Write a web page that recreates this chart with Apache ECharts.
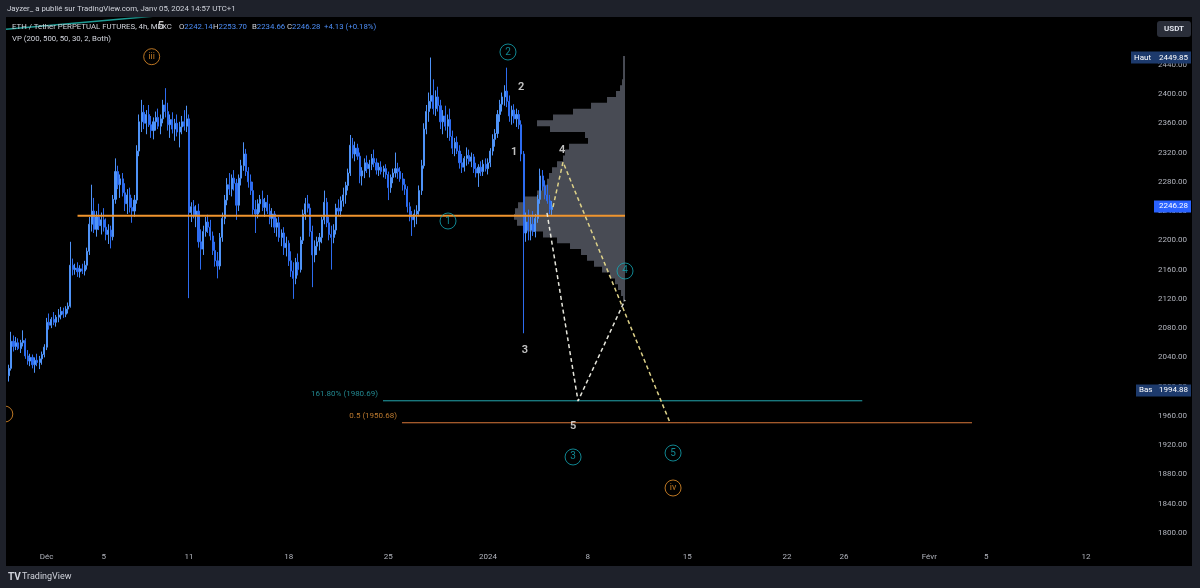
<!DOCTYPE html>
<html><head><meta charset="utf-8">
<script src="https://cdn.jsdelivr.net/npm/echarts@6/dist/echarts.min.js"></script>
<style>html,body{margin:0;padding:0;background:#000;}#c{width:1200px;height:588px;}</style>
</head><body><div id="c"></div>
<script>
// ---- time axis: hours relative to 1 Dec 2023 00:00 (UTC+1), 4h candles from 28 Nov 08:00
const firstCandleHour = -64;
const candleHours = 4;

const opens = [
2015,2025,2062,2055,2060,2052,2060,2063,2042,2035,
2040,2030,2036,2033,2038,2044,2054,2088,2084,2092,
2088,2095,2098,2103,2099,2106,2110,2166,2160,2162,
2157,2161,2158,2166,2185,2222,2240,2215,2232,2220,
2228,2218,2208,2214,2205,2256,2294,2276,2284,2265,
2250,2262,2245,2240,2255,2322,2362,2375,2360,2372,
2358,2350,2362,2368,2356,2366,2385,2376,2358,2365,
2352,2360,2348,2355,2362,2356,2366,2238,2246,2235,
2240,2198,2188,2212,2225,2218,2206,2186,2172,2165,
2204,2230,2255,2276,2270,2285,2278,2248,2285,2302,
2318,2294,2280,2268,2242,2236,2250,2256,2245,2252,
2240,2230,2236,2218,2224,2204,2210,2190,2196,2172,
2158,2148,2170,2160,2200,2236,2250,2244,2212,2180,
2192,2198,2204,2228,2252,2224,2208,2204,2214,2244,
2240,2254,2262,2275,2292,2330,2318,2326,2315,2288,
2295,2306,2298,2304,2312,2306,2296,2300,2294,2298,
2290,2272,2286,2292,2298,2294,2284,2276,2270,2246,
2232,2228,2236,2240,2268,2302,2352,2376,2390,2398,
2380,2396,2384,2362,2370,2356,2365,2342,2326,2334,
2322,2306,2300,2312,2316,2308,2314,2298,2292,2300,
2294,2304,2298,2306,2322,2338,2346,2372,2386,2396,
2404,2390,2370,2378,2366,2372,2358,2318,2210,2225,
2214,2222,2212,2230,2256,2288,2274,2262,2254,2242.14];
const highs = [
2030,2075,2070,2068,2066,2064,2077,2066,2050,2045,
2044,2040,2045,2042,2048,2058,2094,2100,2095,2102,
2098,2106,2109,2108,2110,2115,2198,2175,2168,2170,
2166,2168,2172,2190,2232,2276,2258,2240,2250,2238,
2244,2230,2222,2220,2262,2312,2302,2290,2292,2278,
2270,2272,2258,2262,2330,2372,2392,2385,2378,2385,
2370,2368,2376,2380,2372,2392,2408,2388,2372,2375,
2366,2372,2362,2370,2378,2384,2372,2252,2255,2248,
2250,2215,2220,2232,2235,2228,2212,2198,2184,2210,
2238,2262,2285,2292,2290,2296,2284,2290,2310,2334,
2325,2300,2290,2280,2255,2256,2262,2268,2258,2262,
2250,2244,2240,2230,2232,2215,2218,2205,2200,2185,
2170,2176,2182,2205,2242,2258,2262,2250,2220,2200,
2205,2210,2232,2268,2258,2232,2220,2222,2250,2256,
2260,2272,2280,2298,2344,2340,2335,2332,2320,2300,
2312,2316,2310,2318,2324,2312,2306,2308,2302,2304,
2294,2290,2298,2320,2306,2300,2292,2284,2274,2252,
2240,2242,2248,2275,2310,2360,2385,2402,2449.85,2420,
2405,2410,2392,2378,2384,2372,2380,2350,2340,2342,
2330,2318,2315,2327,2324,2320,2318,2306,2304,2308,
2310,2312,2312,2326,2345,2352,2378,2392,2402,2412,
2436,2398,2384,2386,2380,2378,2364,2322,2238,2242,
2232,2240,2236,2262,2298,2296,2282,2276,2262,2253.70];
const lows = [
2007,2022,2048,2050,2050,2046,2055,2038,2030,2028,
2025,2019,2028,2024,2030,2040,2050,2078,2080,2084,
2082,2088,2092,2094,2095,2100,2108,2152,2153,2150,
2149,2154,2152,2160,2180,2212,2210,2205,2214,2208,
2212,2200,2195,2189,2200,2250,2270,2258,2260,2240,
2236,2238,2224,2232,2250,2315,2348,2352,2345,2355,
2340,2338,2350,2352,2345,2360,2368,2350,2340,2346,
2336,2342,2327,2345,2350,2348,2121,2225,2230,2218,
2190,2160,2180,2205,2210,2200,2180,2164,2148,2160,
2198,2222,2248,2262,2260,2268,2228,2240,2275,2295,
2288,2272,2262,2235,2210,2230,2238,2240,2232,2236,
2222,2218,2210,2205,2198,2192,2180,2178,2165,2150,
2120,2140,2152,2156,2195,2228,2238,2205,2136,2170,
2180,2186,2196,2222,2218,2200,2160,2196,2208,2234,
2232,2246,2250,2268,2288,2312,2308,2310,2278,2275,
2285,2292,2286,2296,2300,2290,2288,2290,2286,2284,
2255,2265,2278,2286,2284,2280,2268,2262,2238,2226,
2206,2218,2222,2235,2262,2298,2345,2362,2380,2372,
2370,2376,2352,2345,2350,2340,2336,2318,2315,2318,
2298,2292,2294,2302,2304,2300,2292,2286,2273,2288,
2288,2294,2290,2300,2316,2328,2340,2362,2376,2384,
2382,2362,2358,2360,2355,2352,2308,2073,2198,2200,
2200,2206,2204,2224,2250,2268,2256,2250,2236,2234.66];
const closes = [
2025,2062,2055,2060,2052,2060,2063,2042,2035,2040,
2030,2036,2033,2038,2044,2054,2088,2084,2092,2088,
2095,2098,2103,2099,2106,2110,2166,2160,2162,2157,
2161,2158,2166,2185,2222,2240,2215,2232,2220,2228,
2218,2208,2214,2205,2256,2294,2276,2284,2265,2250,
2262,2245,2240,2255,2322,2362,2375,2360,2372,2358,
2350,2362,2368,2356,2366,2385,2376,2358,2365,2352,
2360,2348,2355,2362,2356,2366,2238,2246,2235,2240,
2198,2188,2212,2225,2218,2206,2186,2172,2165,2204,
2230,2255,2276,2270,2285,2278,2248,2285,2302,2318,
2294,2280,2268,2242,2236,2250,2256,2245,2252,2240,
2230,2236,2218,2224,2204,2210,2190,2196,2172,2158,
2148,2170,2160,2200,2236,2250,2244,2212,2180,2192,
2198,2204,2228,2252,2224,2208,2204,2214,2244,2240,
2254,2262,2275,2292,2330,2318,2326,2315,2288,2295,
2306,2298,2304,2312,2306,2296,2300,2294,2298,2290,
2272,2286,2292,2298,2294,2284,2276,2270,2246,2232,
2228,2236,2240,2268,2302,2352,2376,2390,2398,2380,
2396,2384,2362,2370,2356,2365,2342,2326,2334,2322,
2306,2300,2312,2316,2308,2314,2298,2292,2300,2294,
2304,2298,2306,2322,2338,2346,2372,2386,2396,2404,
2390,2370,2378,2366,2372,2358,2318,2210,2225,2214,
2222,2212,2230,2256,2288,2274,2262,2254,2242.14,2246.28];

// volume profile (price bin centre, relative volume)
const vpPrices = [2120,2128,2136,2144,2152,2160,2168,2176,2184,2192,2200,2208,2216,2224,2232,2240,2248,2256,2264,2272,2280,2288,2296,2304,2312,2320,2328,2336,2344,2352,2360,2368,2376,2384,2392,2400,2408,2416,2424,2432,2440,2448];
const vpVolumes = [2,4,7,10,15,23,31,38,44,55,68,82,100,108,111,110,107,100,88,83,78,76,73,68,62,60,56,37,40,75,88,72,52,34,18,9,5,3,2,2,2,2];
const vpBinSize = 8;
const vpAnchorHour = 975;

// axis ticks
const xTickHours = [0,96,240,408,576,744,912,1080,1248,1344,1488,1584,1752];
const xTickLabels = ['Déc','5','11','18','25','2024','8','15','22','26','Févr','5','12'];
const yTickValues = [1800,1840,1880,1920,1960,2000,2040,2080,2120,2160,2200,2240,2280,2320,2360,2400,2440];

// drawings (hour, price)
const supportLine = [[52, 2233.7],[975, 2233.7]];
const fib1618 = [[567, 1980.69],[1375, 1980.69]];
const fib05 = [[599, 1950.68],[1560, 1950.68]];
const pathYellow = [[853.6, 2245.6],[870.5, 2307.0],[1050.9, 1950.7]];
const pathWhite = [[843.5, 2237.4],[895.8, 1980.4],[975.0, 2118.5]];
const trendTeal = [[-68.6, 2488.4],[200, 2507.8]];
const fibLabels = [[567, 1980.69, '161.80% (1980.69)'],[599, 1950.68, '0.5 (1950.68)']];
const tealCircled = [[777.7, 2457.4, '2'],[676.6, 2226.4, '1'],[975.0, 2158.1, '4'],[887.4, 1903.9, '3'],[1056.0, 1909.3, '5']];
const orangeCircled = [[177.0, 2451.0, 'iii'],[1056.0, 1861.5, 'iv'],[-70.6, 1962.6, '']];
const whiteLabels = [[192.7, 2492.9, '5'],[799.7, 2409.6, '2'],[787.9, 2320.7, '1'],[868.8, 2323.5, '4'],[806.4, 2050.1, '3'],[887.4, 1946.2, '5']];

const lastInfo = {o:'2242.14', h:'2253.70', l:'2234.66', c:'2246.28', chg:'+4.13 (+0.18%)'};
const highMark = 2449.85, lowMark = 1994.88, lastPrice = 2246.28;

const FONT = 'Roboto, "Noto Sans", sans-serif';
const candleData = opens.map((o, i) => [firstCandleHour + candleHours * i, o, closes[i], lows[i], highs[i]]);

const chart = echarts.init(document.getElementById('c'), null, {width:1200, height:588});

function lineSeries(data, color, width, type, z) {
  return {type:'line', data, showSymbol:false, symbol:'none', clip:true, silent:true, z:z||5,
    lineStyle:{color, width, type:type||'solid'}, animation:false};
}

const option = {
  backgroundColor:'#000',
  animation:false,
  grid:{left:6, right:72, top:18, bottom:45},
  xAxis:{type:'value', min:-68.6, max:1823,
    axisLine:{show:false}, axisTick:{show:false}, splitLine:{show:false},
    axisLabel:{customValues:xTickHours, formatter:v => xTickLabels[xTickHours.indexOf(v)],
      color:'#b2b5be', fontSize:8, margin:10, fontFamily:FONT}},
  yAxis:{type:'value', position:'right', min:1786.33, max:2503.87,
    axisLine:{show:false}, axisTick:{show:false}, splitLine:{show:false},
    axisLabel:{customValues:yTickValues, formatter:v => v.toFixed(2), color:'#b2b5be',
      fontSize:8, align:'right', margin:59, fontFamily:FONT}},
  series:[
    {type:'custom', z:1, silent:true, clip:false, data:[[vpAnchorHour, vpPrices[0]]],
     renderItem:(params, api) => {
       // staircase outline of the volume profile, built through the axis scale
       const pts = [];
       const first = api.coord([vpAnchorHour, vpPrices[0] - vpBinSize/2]);
       pts.push([first[0], first[1]]);
       vpPrices.forEach((p, i) => {
         const b = api.coord([vpAnchorHour, p - vpBinSize/2]);
         const t = api.coord([vpAnchorHour, p + vpBinSize/2]);
         pts.push([b[0] - vpVolumes[i], b[1]]);
         pts.push([t[0] - vpVolumes[i], t[1]]);
       });
       const last = api.coord([vpAnchorHour, vpPrices[vpPrices.length-1] + vpBinSize/2]);
       pts.push([last[0], last[1]]);
       return {type:'polygon', shape:{points:pts}, style:{fill:'#484b54'}};
     }},
    {type:'candlestick', z:3, data:candleData, encode:{x:0, y:[1,2,3,4]}, barWidth:1.6,
     itemStyle:{color:'#4f93f7', color0:'#2d6cf0', borderColor:'#4f93f7', borderColor0:'#2d6cf0', borderWidth:1}},
    lineSeries(supportLine, '#f0952e', 2, 'solid', 6),
    lineSeries(fib1618, '#23a6ae', 1, 'solid', 6),
    lineSeries(fib05, '#d9773a', 1, 'solid', 6),
    lineSeries(pathYellow, '#ddd188', 1.5, [4,3], 7),
    lineSeries(pathWhite, '#e6e6dc', 1.5, [4,3], 7),
    lineSeries(trendTeal, '#1e9b94', 1.5, 'solid', 7),
    {type:'scatter', z:8, clip:false, silent:true, symbolSize:0,
     data:fibLabels.map(d => ({value:[d[0], d[1]], label:{formatter:d[2], color: d[2].startsWith('0.5') ? '#e8963a' : '#2aa9b3'}})),
     label:{show:true, position:'left', distance:5, offset:[0,-7], fontSize:8, fontFamily:FONT}},
    {type:'scatter', z:9, clip:false, silent:true, symbol:'circle', symbolSize:16,
     itemStyle:{color:'rgba(0,0,0,0)', borderColor:'#14a6b4', borderWidth:1},
     data:tealCircled.map(d => ({value:[d[0], d[1]], label:{formatter:d[2]}})),
     label:{show:true, position:'inside', color:'#14a6b4', fontSize:10, fontFamily:FONT}},
    {type:'scatter', z:9, clip:false, silent:true, symbol:'circle', symbolSize:16,
     itemStyle:{color:'rgba(0,0,0,0)', borderColor:'#e8922c', borderWidth:1},
     data:orangeCircled.map(d => ({value:[d[0], d[1]], label:{formatter:d[2] || ' '}})),
     label:{show:true, position:'inside', color:'#e8922c', fontSize:9, fontFamily:FONT}},
    {type:'scatter', z:10, clip:false, silent:true, symbolSize:1,
     itemStyle:{color:'rgba(0,0,0,0)'},
     data:whiteLabels.map(d => ({value:[d[0], d[1]], label:{formatter:d[2]}})),
     label:{show:true, position:'inside', color:'#f2f2f2', fontSize:11, fontWeight:600, fontFamily:FONT}}
  ]
};
chart.setOption(option);

// overlays (frame, legend, price tags) placed through the chart's own scale
const yOf = p => chart.convertToPixel({gridIndex:0}, [0, p])[1];
const frame = '#1e212a';
const txt = '#d1d4dc';
const blue = '#4d8ef7';
const LF = '7.8px ' + FONT;
function tag(x, w, price, bg, label, value) {
  const y = yOf(price);
  const els = [{type:'rect', z:120, shape:{x, y:y-6, width:w, height:12}, style:{fill:bg}}];
  if (label) els.push({type:'text', z:121, x:x+3, y:y, style:{text:label, fill:'#fff', font:'8px ' + FONT, textVerticalAlign:'middle'}});
  els.push({type:'text', z:121, x:1188, y:y, style:{text:value, fill:'#fff', font:'8px ' + FONT, textAlign:'right', textVerticalAlign:'middle'}});
  return els;
}
const rich = (l, v) => ({type:'text', z:110, style:{rich:{l:{fill:txt, font:LF}, v:{fill:blue, font:LF}}, text:'{l|' + l + '}{v|' + v + '}', textVerticalAlign:'middle'}});
const graphics = [
  {type:'rect', z:100, shape:{x:0, y:0, width:1200, height:17}, style:{fill:frame}},
  {type:'rect', z:100, shape:{x:0, y:566, width:1200, height:22}, style:{fill:frame}},
  {type:'rect', z:100, shape:{x:0, y:0, width:6, height:588}, style:{fill:frame}},
  {type:'rect', z:100, shape:{x:1192, y:0, width:8, height:588}, style:{fill:frame}},
  {type:'text', z:110, x:7, y:9, style:{text:'Jayzer_ a publié sur TradingView.com, Janv 05, 2024 14:57 UTC+1', fill:txt, font:LF, textVerticalAlign:'middle'}},
  {type:'text', z:110, x:12, y:27, style:{text:'ETH / Tether PERPETUAL FUTURES, 4h, MEXC', fill:txt, font:LF, textVerticalAlign:'middle'}},
  Object.assign(rich('O', lastInfo.o), {x:179, y:27}),
  Object.assign(rich('H', lastInfo.h), {x:213, y:27}),
  Object.assign(rich('B', lastInfo.l), {x:252, y:27}),
  Object.assign(rich('C', lastInfo.c), {x:287, y:27}),
  {type:'text', z:110, x:324, y:27, style:{text:lastInfo.chg, fill:blue, font:LF, textVerticalAlign:'middle'}},
  {type:'text', z:110, x:12, y:39, style:{text:'VP (200, 500, 50, 30, 2, Both)', fill:txt, font:LF, textVerticalAlign:'middle'}},
  {type:'rect', z:110, shape:{x:1157, y:21, width:34, height:16, r:3}, style:{fill:'#2a2e39'}},
  {type:'text', z:111, x:1174, y:29, style:{text:'USDT', fill:'#e0e3eb', font:'bold 8px ' + FONT, textAlign:'center', textVerticalAlign:'middle'}},
  {type:'text', z:110, x:8, y:577, style:{text:'TV', fill:txt, font:'bold 10px ' + FONT, textVerticalAlign:'middle'}},
  {type:'text', z:110, x:22, y:577, style:{text:'TradingView', fill:txt, font:'9px ' + FONT, textVerticalAlign:'middle'}}
].concat(
  tag(1131, 60, highMark, '#1d3a6c', 'Haut', highMark.toFixed(2)),
  tag(1136, 55, lowMark, '#1d3a6c', 'Bas', lowMark.toFixed(2)),
  tag(1154, 37, lastPrice, '#2962ff', '', lastPrice.toFixed(2))
);
chart.setOption({graphic:{elements:graphics}});
</script>
</body></html>
